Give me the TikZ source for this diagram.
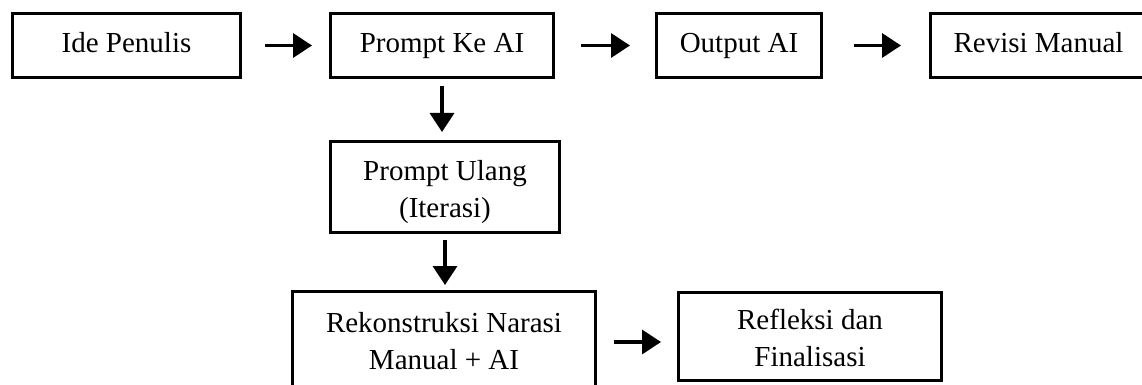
\documentclass[tikz,border=0pt]{standalone}
\usepackage{fontspec}
\setmainfont{Liberation Serif}
\usetikzlibrary{arrows.meta}
\tikzset{
  boxnode/.style={draw=black, line width=3pt, inner sep=0pt, align=center,
    font=\fontsize{29}{37}\selectfont},
  oneline/.style={text height=21pt, text depth=6pt},
  twoline/.style={text height=64pt, text depth=4pt},
  arr/.style={line width=3.5pt, -{Triangle[length=19pt,width=24pt]}}
}
\begin{document}
\begin{tikzpicture}[x=1pt,y=1pt]
\useasboundingbox (0,0) rectangle (1142,-385);
\begin{scope}
\clip (0,0) rectangle (1142,-385);
\node[boxnode, oneline, minimum width=228pt, minimum height=64pt] (b1) at (126.5,-45.5) {Ide Penulis};
\node[boxnode, oneline, minimum width=223pt, minimum height=64pt] (b2) at (442,-45.5) {Prompt Ke AI};
\node[boxnode, oneline, minimum width=165pt, minimum height=64pt] (b3) at (739,-45.5) {Output AI};
\node[boxnode, oneline, minimum width=216pt, minimum height=64pt] (b4) at (1038.5,-45.5) {Revisi Manual};
\node[boxnode, twoline, minimum width=229pt, minimum height=91pt] (b5) at (445,-187) {Prompt Ulang\\(Iterasi)};
\node[boxnode, twoline, minimum width=303pt, minimum height=95pt] (b6) at (444,-339) {Rekonstruksi Narasi\\Manual + AI};
\node[boxnode, twoline, minimum width=263pt, minimum height=88pt] (b7) at (810,-336.5) {Refleksi dan\\Finalisasi};
\end{scope}
\draw[arr, shorten <=23pt, shorten >=17pt] (b1.east) -- (b2.west);
\draw[arr, shorten <=26pt, shorten >=25pt] (b2.east) -- (b3.west);
\draw[arr, shorten <=31pt, shorten >=28pt] (b3.east) -- (b4.west);
\draw[arr, shorten <=7pt, shorten >=8pt] (b2.south) -- (b2.south |- b5.north);
\draw[arr, shorten <=6pt, shorten >=5pt] (b5.south) -- (b5.south |- b6.north);
\draw[arr, shorten <=17pt, shorten >=16pt] ([yshift=-3pt]b6.east) -- ([yshift=-3pt]b6.east -| b7.west);
\end{tikzpicture}
\end{document}
